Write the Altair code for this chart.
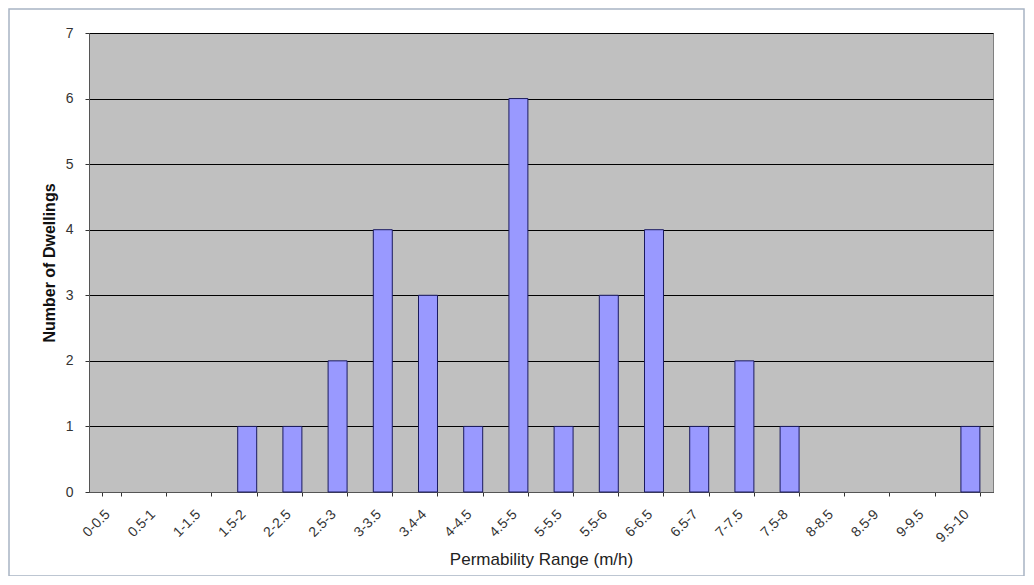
import altair as alt
import pandas as pd

ranges = ["0-0.5", "0.5-1", "1-1.5", "1.5-2", "2-2.5", "2.5-3", "3-3.5", "3.4-4",
          "4-4.5", "4.5-5", "5-5.5", "5.5-6", "6-6.5", "6.5-7", "7-7.5", "7.5-8",
          "8-8.5", "8.5-9", "9-9.5", "9.5-10"]
dwellings = [0, 0, 0, 1, 1, 2, 4, 3, 1, 6, 1, 3, 4, 1, 2, 1, 0, 0, 0, 1]

df = pd.DataFrame({"range": ranges, "count": dwellings})

bars = alt.Chart(df).transform_filter(
    alt.datum.count > 0
).mark_bar(
    color="#9999ff", stroke="#1a1a5e", strokeWidth=1
).encode(
    x=alt.X("range:N", sort=ranges,
            scale=alt.Scale(domain=ranges, paddingInner=0.58, paddingOuter=0.29),
            axis=alt.Axis(title="Permability Range (m/h)", labelAngle=-45,
                          tickBand="extent", labelFontSize=14, labelColor="#333333",
                          labelFont="Liberation Sans", titleFont="Liberation Sans",
                          titleFontSize=17, titleFontWeight="normal", titleColor="#222222",
                          titlePadding=7, domainColor="#555555", tickColor="#333333",
                          tickSize=4, labelPadding=11, labelOffset=-9)),
    y=alt.Y("count:Q", scale=alt.Scale(domain=[0, 7]),
            axis=alt.Axis(title="Number of Dwellings", values=[0, 1, 2, 3, 4, 5, 6, 7],
                          grid=True, gridColor="#000000", gridOpacity=1, gridWidth=1,
                          labelFontSize=14, labelColor="#333333", labelFont="Liberation Sans",
                          titleFont="Liberation Sans", titleFontSize=16,
                          titleFontWeight="bold", titleColor="#111111",
                          domainColor="#555555", tickColor="#333333", tickSize=4,
                          labelPadding=12, titlePadding=8)),
)

frame = alt.Chart(pd.DataFrame({"f": [0]})).mark_rect(
    fill=None, stroke="#a8b4c4", strokeWidth=1.5
).encode(
    x=alt.value(-80), x2=alt.value(935), y=alt.value(-24), y2=alt.value(543)
)

chart = alt.layer(bars, frame).properties(
    width=904, height=459,
    background="#ffffff",
    autosize=alt.AutoSizeParams(type="none"),
    padding={"left": 81, "top": 25, "right": 32, "bottom": 84},
).configure_view(
    fill="#c0c0c0", stroke="#808080", strokeWidth=1
)

chart.save("out.html", embed_options={"renderer": "svg", "actions": False})
